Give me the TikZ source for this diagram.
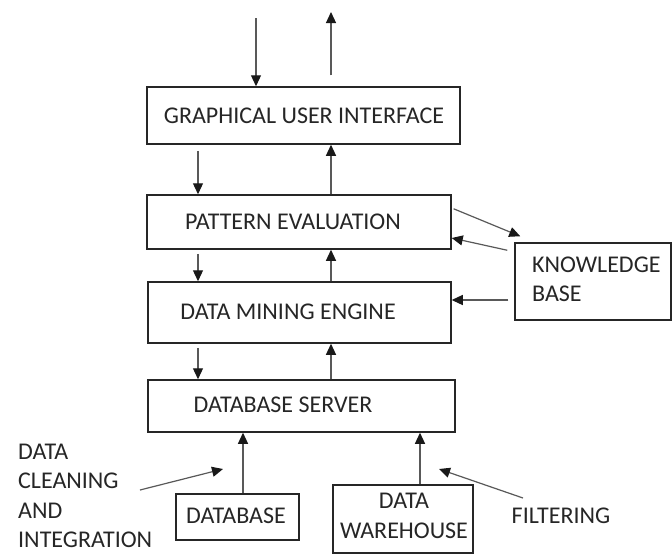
\documentclass[tikz,border=0pt]{standalone}
\usepackage{fontspec}
\setmainfont{Carlito}
\usetikzlibrary{arrows.meta}
\begin{document}
\begin{tikzpicture}[x=1pt,y=-1pt,
  box/.style={draw=black!85, line width=1.5pt, inner sep=0pt},
  lbl/.style={text=black!85, font=\fontsize{24}{29.3}\selectfont, inner sep=0pt},
  arr/.style={draw=black!65, line width=1.2pt, -{Triangle[length=11pt,width=10pt,color=black!90]}}]
\useasboundingbox[fill=white] (0,0) rectangle (672,558);

% boxes
\node[box, minimum width=313pt, minimum height=57pt] (gui) at (303.5,115.5) {};
\node[box, minimum width=304pt, minimum height=54pt] (pe)  at (299,222) {};
\node[box, minimum width=303pt, minimum height=61pt] (dme) at (299.5,312.5) {};
\node[box, minimum width=307pt, minimum height=52pt] (dbs) at (301.5,406) {};
\node[box, minimum width=156pt, minimum height=77pt] (kb)  at (593,281.5) {};
\node[box, minimum width=123pt, minimum height=46pt] (db)  at (237.5,517) {};
\node[box, minimum width=140pt, minimum height=68pt] (dw)  at (403,519) {};

% texts
\node[lbl] (guit) at (304,115.5) {GRAPHICAL USER INTERFACE};
\node[lbl] (pet)  at (293,222) {PATTERN EVALUATION};
\node[lbl] (dmet) at (288,312) {DATA MINING ENGINE};
\node[lbl] (dbst) at (283,405) {DATABASE SERVER};
\node[lbl, anchor=west, align=left] (kbt) at (532,279) {KNOWLEDGE\\BASE};
\node[lbl] (dbt) at (236,516) {DATABASE};
\node[lbl, align=center] (dwt) at (404,516) {DATA\\WAREHOUSE};
\node[lbl, anchor=west, align=left] (dct) at (18,496) {DATA\\CLEANING\\AND\\INTEGRATION};
\node[lbl] (filt) at (561,516) {FILTERING};

% helper coordinates
\coordinate (inTop) at (256,18);
\coordinate (outTop) at (331,12);
\coordinate (xl) at (198,0);
\coordinate (xr) at (331,0);
\coordinate (dcs) at (140,490);
\coordinate (dce) at (223,469);
\coordinate (fis) at (523,498);
\coordinate (fie) at (439,469);

% top arrows
\draw[arr] (inTop) -- (inTop |- gui.north);
\draw[arr, shorten <=11pt] (outTop |- gui.north) -- (outTop);

% vertical stack arrows
\draw[arr, shorten <=6pt] (gui.south -| xl) -- (pe.north -| xl);
\draw[arr] (pe.north -| xr) -- (gui.south -| xr);
\draw[arr, shorten <=4pt] (pe.south -| xl) -- (dme.north -| xl);
\draw[arr] (dme.north -| xr) -- (pe.south -| xr);
\draw[arr, shorten <=4pt] (dme.south -| xl) -- (dbs.north -| xl);
\draw[arr] (dbs.north -| xr) -- (dme.south -| xr);

% knowledge base arrows
\draw[arr, shorten <=2pt] ([yshift=14pt]pe.east) -- ([xshift=6pt,yshift=6pt]kb.north west);
\draw[arr] ([xshift=-7pt,yshift=-8pt]kb.north west) -- ([yshift=-16pt]pe.east);
\draw[arr] ([xshift=-6pt,yshift=-18.5pt]kb.west) -- ([yshift=12.5pt]dme.east);

% sources
\draw[arr] ([xshift=5.5pt]db.north) -- ([xshift=5.5pt]db.north |- dbs.south);
\draw[arr] ([xshift=17pt]dw.north) -- ([xshift=17pt]dw.north |- dbs.south);
\draw[arr] (dcs) -- (dce);
\draw[arr] (fis) -- (fie);
\end{tikzpicture}
\end{document}
